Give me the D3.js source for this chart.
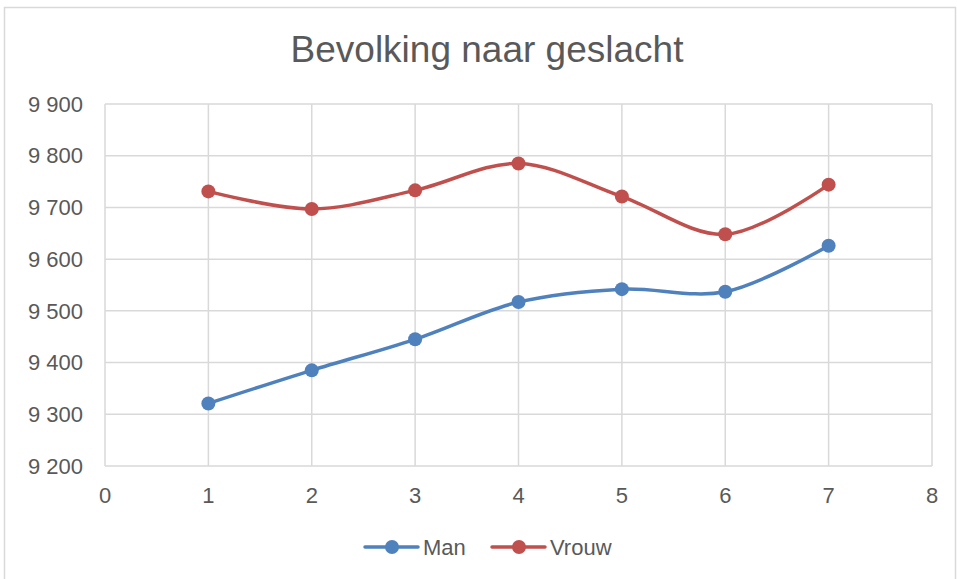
<!DOCTYPE html>
<html><head><meta charset="utf-8">
<script src="https://cdn.jsdelivr.net/npm/d3@7"></script>
<style>body{margin:0;background:#fff}svg{display:block;font-family:"Liberation Sans",Arial,sans-serif}</style>
</head><body>
<svg id="c" width="957" height="579"></svg>
<script>
const xValues = [1,2,3,4,5,6,7];
const manValues = [9321,9385,9445,9517,9542,9537,9626];
const vrouwValues = [9731,9697,9733,9785,9721,9648,9744];
const seriesNames = ["Man","Vrouw"];
const seriesColors = ["#4f81bd","#c0504d"];
const yTicks = [9200,9300,9400,9500,9600,9700,9800,9900];
const xTicks = [0,1,2,3,4,5,6,7,8];
const title = "Bevolking naar geslacht";

const svg = d3.select("#c");
svg.append("rect").attr("x",4.5).attr("y",7.5).attr("width",951).attr("height",575)
  .attr("fill","#fff").attr("stroke","#d9d9d9").attr("stroke-width",1.5);

const x = d3.scaleLinear().domain([0,8]).range([105,932]);
const y = d3.scaleLinear().domain([9200,9900]).range([466,104]);

svg.append("text").attr("x",487).attr("y",62).attr("text-anchor","middle")
  .attr("font-size",37).attr("fill","#595959").text(title);

// gridlines
svg.append("g").selectAll("line").data(yTicks).join("line")
  .attr("x1",x(0)).attr("x2",x(8)).attr("y1",d=>y(d)).attr("y2",d=>y(d))
  .attr("stroke","#d9d9d9").attr("stroke-width",1.5);
svg.append("g").selectAll("line").data(xTicks).join("line")
  .attr("y1",y(9200)).attr("y2",y(9900)).attr("x1",d=>x(d)).attr("x2",d=>x(d))
  .attr("stroke","#d9d9d9").attr("stroke-width",1.5);

const fmt = d => d3.format(",")(d).replace(",", " ");
svg.append("g").selectAll("text").data(yTicks).join("text")
  .attr("x",83).attr("y",d=>y(d)).attr("dy","0.35em").attr("text-anchor","end")
  .attr("font-size",22).attr("fill","#595959").text(fmt);
svg.append("g").selectAll("text").data(xTicks).join("text")
  .attr("x",d=>x(d)).attr("y",y(9200)+37).attr("text-anchor","middle")
  .attr("font-size",22).attr("fill","#595959").text(d=>d);

const series = [manValues, vrouwValues];
const line = d3.line().x((d,i)=>x(xValues[i])).y(d=>y(d)).curve(d3.curveCatmullRom.alpha(0.5));
series.forEach((vals,k)=>{
  svg.append("path").datum(vals).attr("d",line).attr("fill","none")
    .attr("stroke",seriesColors[k]).attr("stroke-width",3.5).attr("stroke-linecap","round");
  svg.append("g").selectAll("circle").data(vals).join("circle")
    .attr("cx",(d,i)=>x(xValues[i])).attr("cy",d=>y(d)).attr("r",7)
    .attr("fill",seriesColors[k]);
});

// legend
const legX = [365, 492];
seriesNames.forEach((n,k)=>{
  const g = svg.append("g").attr("transform",`translate(${legX[k]},547)`);
  g.append("line").attr("x1",0).attr("x2",53).attr("stroke",seriesColors[k]).attr("stroke-width",3.5).attr("stroke-linecap","round");
  g.append("circle").attr("cx",27).attr("r",7).attr("fill",seriesColors[k]);
  g.append("text").attr("x",58).attr("dy","0.35em").attr("font-size",22).attr("fill","#595959").text(n);
});
</script>
</body></html>
